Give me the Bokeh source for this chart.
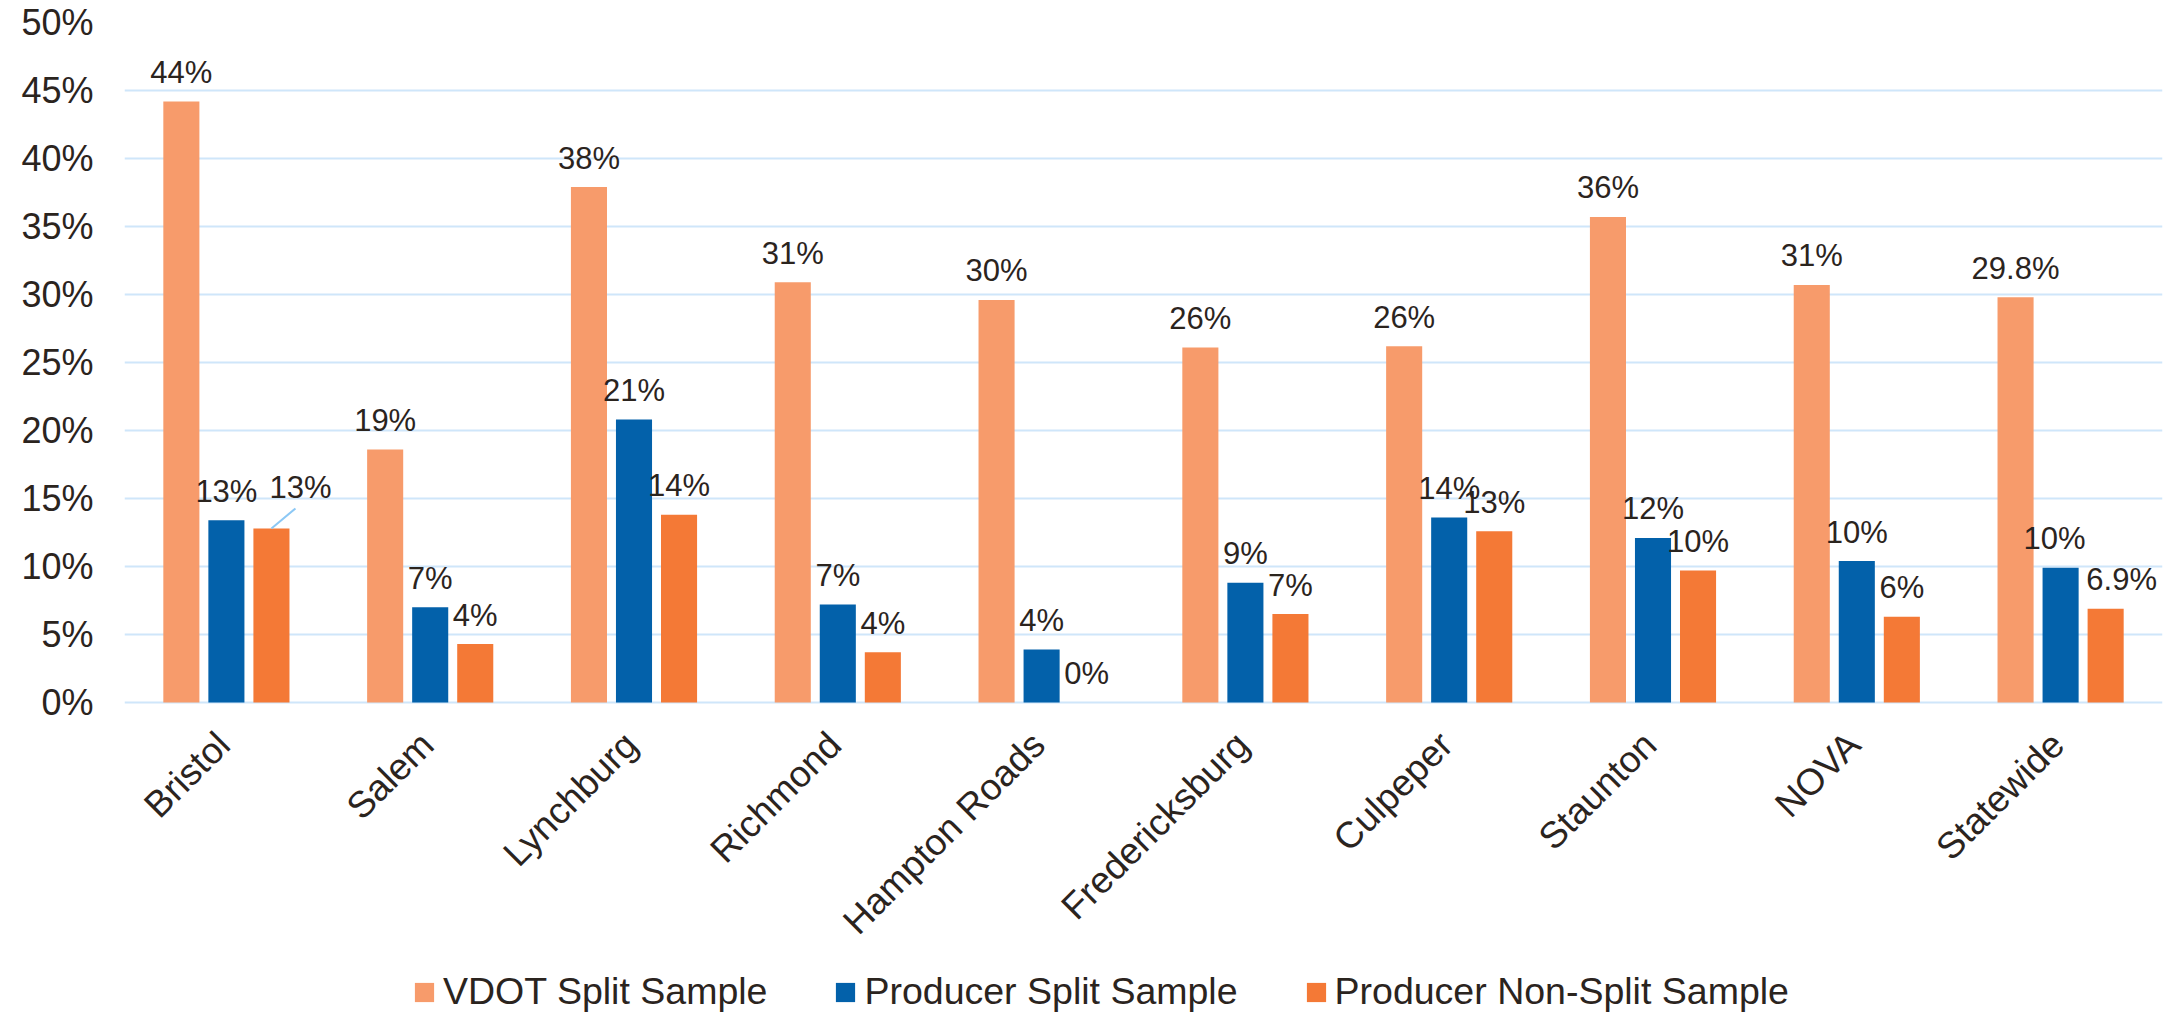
import math
from bokeh.plotting import figure
from bokeh.models import (FactorRange, Range1d, FixedTicker, PrintfTickFormatter,
                          Legend, LegendItem, ColumnDataSource)
from bokeh.transform import dodge
from bokeh.core.properties import value
from bokeh.embed import file_html
from bokeh.resources import INLINE

# ---------------- data ----------------
regions = ["Bristol", "Salem", "Lynchburg", "Richmond", "Hampton Roads",
           "Fredericksburg", "Culpeper", "Staunton", "NOVA", "Statewide"]
vdot_split = [44.2, 18.6, 37.9, 30.9, 29.6, 26.1, 26.2, 35.7, 30.7, 29.8]
producer_split = [13.4, 7.0, 20.8, 7.2, 3.9, 8.8, 13.6, 12.1, 10.4, 9.9]
producer_nonsplit = [12.8, 4.3, 13.8, 3.7, 0.0, 6.5, 12.6, 9.7, 6.3, 6.9]

vdot_labels = ["44%", "19%", "38%", "31%", "30%", "26%", "26%", "36%", "31%", "29.8%"]
producer_split_labels = ["13%", "7%", "21%", "7%", "4%", "9%", "14%", "12%", "10%", "10%"]
producer_nonsplit_labels = ["13%", "4%", "14%", "4%", "0%", "7%", "13%", "10%", "6%", "6.9%"]

series_names = ["VDOT Split Sample", "Producer Split Sample", "Producer Non-Split Sample"]
y_ticks = list(range(0, 51, 5))

# ---------------- style ----------------
TEXT = "#2B241E"
COLORS = ["#F79B6B", "#0361AA", "#F47936"]
GRID = "#CFE6FA"
FONT = "Liberation Sans"
OFFSETS = [-0.221, 0.0, 0.221]
BAR_W = 0.177

W, H = 2179, 1013
BL, BR, BT, BB = 124, 17, 22, 0
PX_PER_PCT = 13.6
frame_w = W - BL - BR
frame_h = H - BT - BB
px_per_cat = frame_w / len(regions)
y_top = 50.0
y_bottom = y_top - frame_h / PX_PER_PCT   # frame extends below 0 to hold labels/legend

src = ColumnDataSource(dict(
    region=regions,
    s0=vdot_split, s1=producer_split, s2=producer_nonsplit,
    l0=vdot_labels, l1=producer_split_labels, l2=producer_nonsplit_labels,
    base=[0.0] * len(regions),
))

LABEL_DY = -29
# label nudges (pixels) for labels moved aside
nudge = {(2, "Bristol"): (29, -12), (2, "Statewide"): (16, 0), (1, "Statewide"): (-6, 0)}
# leader lines (pixel offset of the line's far end from the bar top)
leaders = {(2, "Bristol"): (24, 20)}
for k in range(3):
    xo, yo = [], []
    for r in regions:
        dx, dy = nudge.get((k, r), (0, 0))
        xo.append(dx)
        yo.append(LABEL_DY + dy)
    src.data[f"xo{k}"] = xo
    src.data[f"yo{k}"] = yo

p = figure(width=W, height=H,
           x_range=FactorRange(*regions, range_padding=0),
           y_range=Range1d(y_bottom, y_top),
           x_axis_location=None,
           output_backend="svg", toolbar_location=None,
           min_border_left=BL, min_border_right=BR,
           min_border_top=BT, min_border_bottom=BB)
p.outline_line_color = None
p.background_fill_color = "white"
p.border_fill_color = "white"

renderers = []
for k in range(3):
    r = p.vbar(x=dodge("region", OFFSETS[k], range=p.x_range), top=f"s{k}",
               width=BAR_W, fill_color=COLORS[k], line_color=None, source=src)
    renderers.append(r)
    p.text(x=dodge("region", OFFSETS[k], range=p.x_range), y=f"s{k}", text=f"l{k}",
           x_offset=f"xo{k}", y_offset=f"yo{k}",
           text_align="center", text_baseline="alphabetic",
           text_font=value(FONT), text_font_size="31px", text_color=TEXT, source=src)

# leader lines for nudged labels
lx0, ly0, lx1, ly1 = [], [], [], []
for (k, r), (dx, dy) in leaders.items():
    i = regions.index(r)
    vals = [vdot_split, producer_split, producer_nonsplit][k]
    cx = i + 0.5 + OFFSETS[k]
    lx0.append(cx)
    ly0.append(vals[i])
    lx1.append(cx + dx / px_per_cat)
    ly1.append(vals[i] + dy / PX_PER_PCT)
p.segment(x0=lx0, y0=ly0, x1=lx1, y1=ly1, line_color="#8CC8F5", line_width=2)

# category labels, rotated 45 degrees, hanging under the 0% line
p.text(x="region", y="base", text="region", angle=math.pi / 4,
       x_offset=-3, y_offset=36, text_align="right", text_baseline="middle",
       text_font=value(FONT), text_font_size="37px", text_color=TEXT, source=src)

# y axis
p.yaxis.ticker = FixedTicker(ticks=y_ticks)
p.yaxis.formatter = PrintfTickFormatter(format="%d%%")
p.yaxis.axis_line_color = None
p.yaxis.major_tick_line_color = None
p.yaxis.minor_tick_line_color = None
p.yaxis.major_tick_out = 0
p.yaxis.major_tick_in = 0
p.yaxis.major_label_text_font = FONT
p.yaxis.major_label_text_font_size = "36px"
p.yaxis.major_label_text_color = TEXT
p.yaxis.major_label_standoff = 31

p.xgrid.grid_line_color = None
p.ygrid.ticker = FixedTicker(ticks=y_ticks)
p.ygrid.grid_line_color = GRID
p.ygrid.grid_line_width = 2

legend = Legend(
    items=[LegendItem(label=series_names[k], renderers=[renderers[k]]) for k in range(3)],
    orientation="horizontal", location=(288, 0),
    glyph_width=24, glyph_height=24, label_standoff=7, spacing=66,
    padding=0, margin=0, border_line_color=None, background_fill_alpha=0,
    label_text_font=FONT, label_text_font_size="37.5px", label_text_color=TEXT,
)
p.add_layout(legend)

open("out.html", "w").write(file_html(p, INLINE))
